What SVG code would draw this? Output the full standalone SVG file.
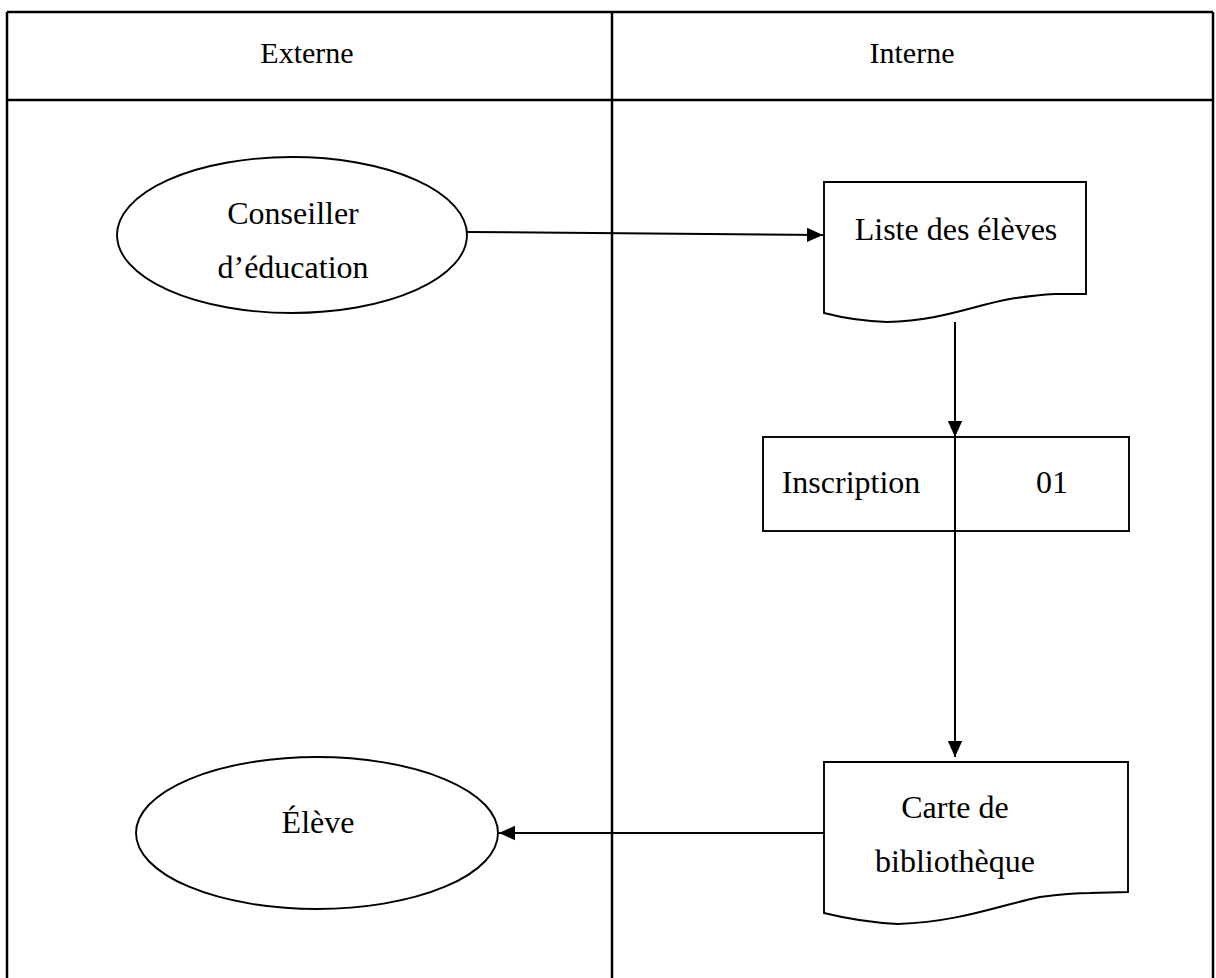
<svg xmlns="http://www.w3.org/2000/svg" width="1216" height="978" viewBox="0 0 1216 978">
<defs>
<style>
.t{font-family:"Liberation Serif","Times New Roman",serif;font-size:32px;fill:#000;text-anchor:middle}
.grid{stroke:#000;stroke-width:2.5;fill:none}
.sh{stroke:#000;stroke-width:1.9;fill:#fff}
.cn{stroke:#000;stroke-width:2;fill:none}
</style>
<marker id="ah" viewBox="0 0 10 10" refX="10" refY="5" markerWidth="16" markerHeight="16" markerUnits="userSpaceOnUse" orient="auto">
<path d="M0,0.5 L10,5 L0,9.5 Z" fill="#000"/>
</marker>
</defs>
<rect width="1216" height="978" fill="#fff"/>
<g id="table">
<line class="grid" x1="7" y1="12" x2="1213" y2="12"/>
<line class="grid" x1="7" y1="12" x2="7" y2="980"/>
<line class="grid" x1="1213" y1="12" x2="1213" y2="980"/>
<line class="grid" x1="612" y1="12" x2="612" y2="980"/>
<line class="grid" x1="7" y1="100" x2="1213" y2="100"/>
<text class="t" x="307" y="63" style="font-size:30px">Externe</text>
<text class="t" x="912" y="63" style="font-size:30px">Interne</text>
</g>
<g id="conseiller">
<ellipse class="sh" cx="292" cy="235" rx="175" ry="78"/>
<text class="t" x="293" y="224">Conseiller</text>
<text class="t" x="293" y="278">d’éducation</text>
</g>
<g id="eleve">
<ellipse class="sh" cx="317" cy="833" rx="181" ry="76"/>
<text class="t" x="318" y="833">Élève</text>
</g>
<g id="liste">
<path class="sh" d="M824,182 L1086,182 L1086,294 L1055,294 Q1035,295 1010,299 C975,305 940,321 887,322 Q855,321 824,313 Z"/>
<text class="t" x="956" y="240">Liste des élèves</text>
</g>
<g id="inscription">
<rect class="sh" x="763" y="437" width="366" height="94"/>
<text class="t" x="851" y="493">Inscription</text>
<text class="t" x="1052" y="493">01</text>
</g>
<g id="carte">
<path class="sh" d="M824,762 L1128,762 L1128,892 L1090,893 Q1070,893 1040,897 C1000,905 960,922 898,924 Q860,922 824,913 Z"/>
<text class="t" x="955" y="818">Carte de</text>
<text class="t" x="955" y="872">bibliothèque</text>
</g>
<g id="connectors">
<line class="cn" x1="467" y1="232" x2="823" y2="235" marker-end="url(#ah)"/>
<line class="cn" x1="955" y1="322" x2="955" y2="437" marker-end="url(#ah)"/>
<line class="cn" x1="955" y1="437" x2="955" y2="757" marker-end="url(#ah)"/>
<line class="cn" x1="824" y1="833" x2="499" y2="833" marker-end="url(#ah)"/>
</g>
</svg>
